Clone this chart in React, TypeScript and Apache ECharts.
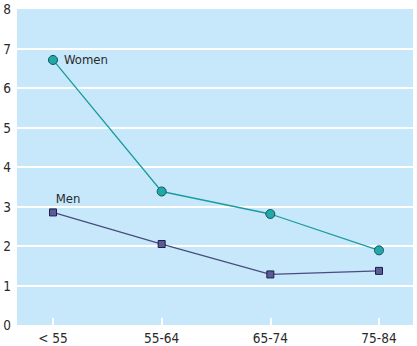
import React, { useEffect, useRef } from "react";
import * as echarts from "echarts";

const categories = ["< 55", "55-64", "65-74", "75-84"];
const women = [6.71, 3.38, 2.81, 1.89];
const men = [2.85, 2.05, 1.28, 1.37];
const seriesNames = ["Women", "Men"];

const FONT = "'Liberation Sans Narrow', 'Arial Narrow', 'DejaVu Sans Condensed', sans-serif";

export default function App() {
  const ref = useRef<HTMLDivElement>(null);
  useEffect(() => {
    if (!ref.current) return;
    const chart = echarts.init(ref.current, undefined, { renderer: "svg" });
    chart.setOption({
      animation: false,
      textStyle: { fontFamily: FONT },
      grid: [
        { left: 17, right: 4, top: 9, bottom: 21, show: true, backgroundColor: "#c6e8fa", borderWidth: 0 },
        { left: 53, right: 38, top: 9, bottom: 21 },
      ],
      xAxis: [
        { type: "value", gridIndex: 0, min: 0, max: 1, show: false },
        {
          type: "category",
          gridIndex: 1,
          data: categories,
          boundaryGap: false,
          axisLine: { show: false },
          axisTick: { show: true, inside: true, length: 7, lineStyle: { color: "#ffffff", width: 2 } },
          axisLabel: { color: "#2a2a2a", fontSize: 13.5, fontFamily: FONT, margin: 6 },
          splitLine: { show: false },
        },
      ],
      yAxis: [
        {
          type: "value",
          gridIndex: 0,
          min: 0,
          max: 8,
          interval: 1,
          axisLine: { show: false },
          axisTick: { show: false },
          axisLabel: { color: "#2a2a2a", fontSize: 13.5, fontFamily: FONT, margin: 6 },
          splitLine: { show: true, showMinLine: false, showMaxLine: false, lineStyle: { color: "#ffffff", width: 2 } },
        },
        { type: "value", gridIndex: 1, min: 0, max: 8, show: false },
      ],
      series: [
        {
          name: seriesNames[0],
          type: "line",
          xAxisIndex: 1,
          yAxisIndex: 1,
          symbol: "circle",
          symbolSize: 9,
          lineStyle: { color: "#1a9c9e", width: 1.3 },
          itemStyle: { color: "#1fa9aa", borderColor: "#1c4d55", borderWidth: 1 },
          data: women.map((v, i) =>
            i === 0
              ? {
                  value: v,
                  label: {
                    show: true,
                    formatter: seriesNames[0],
                    position: "right",
                    distance: 6,
                    color: "#2a2a2a",
                    fontSize: 13,
                    fontFamily: FONT,
                  },
                }
              : v
          ),
        },
        {
          name: seriesNames[1],
          type: "line",
          xAxisIndex: 1,
          yAxisIndex: 1,
          symbol: "rect",
          symbolSize: 7,
          lineStyle: { color: "#4b4b84", width: 1.3 },
          itemStyle: { color: "#5b5b98", borderColor: "#1e1e44", borderWidth: 1 },
          data: men.map((v, i) =>
            i === 0
              ? {
                  value: v,
                  label: {
                    show: true,
                    formatter: seriesNames[1],
                    position: "top",
                    distance: 5,
                    offset: [15, 2],
                    color: "#2a2a2a",
                    fontSize: 13,
                    fontFamily: FONT,
                  },
                }
              : v
          ),
        },
      ],
    });
    return () => chart.dispose();
  }, []);
  return <div ref={ref} style={{ width: 417, height: 346, position: "absolute", left: 0, top: 0 }} />;
}
